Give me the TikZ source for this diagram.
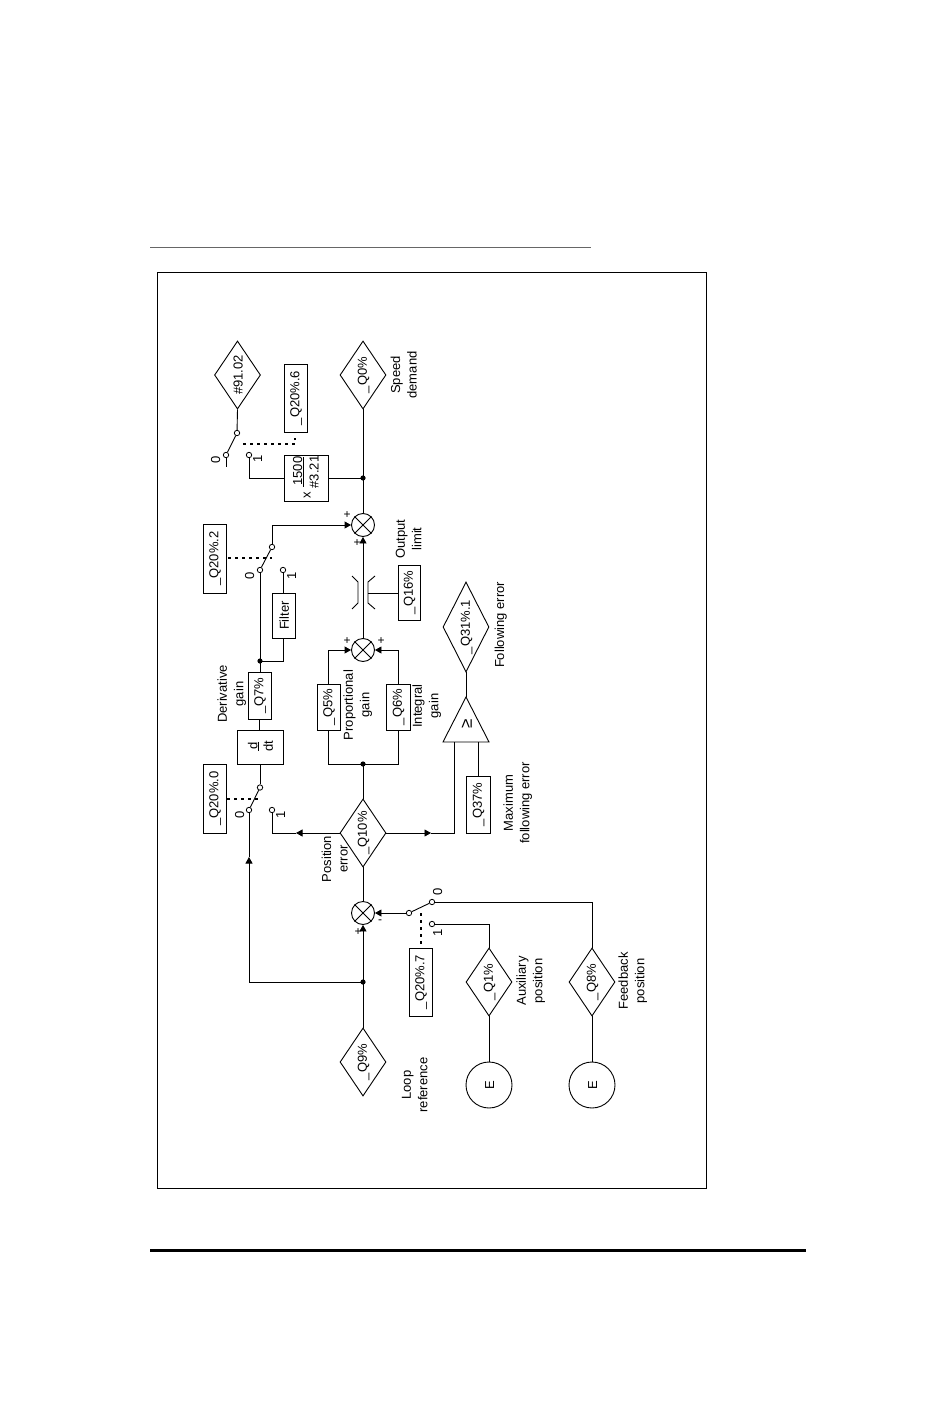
\documentclass[tikz,border=0pt]{standalone}
\usepackage{fontspec}
\setmainfont{Liberation Sans}
\usetikzlibrary{shapes.geometric,arrows.meta}
\tikzset{
  x=1pt,y=-1pt,
  ln/.style={line width=0.9pt,black},
  every path/.append style={ln},
  tip/.style={-{Triangle[length=6.5pt,width=7pt]}},
  box/.style={draw,rectangle,inner sep=0pt,line width=0.9pt},
  diam/.style={draw,diamond,inner sep=0pt,minimum width=46pt,minimum height=68pt,line width=0.9pt},
  sumc/.style={draw,circle,inner sep=0pt,minimum size=23pt,line width=0.9pt},
  enc/.style={draw,circle,inner sep=0pt,minimum size=46pt,line width=0.9pt},
  dot/.style={circle,fill=black,inner sep=0pt,minimum size=5.2pt},
  cont/.style={draw,circle,fill=white,inner sep=0pt,minimum size=5.4pt,line width=0.8pt},
  rot/.style={rotate=90,xshift=0pt,yshift=-0.7pt,inner sep=0pt,align=center,font=\fontsize{13}{16.5}\selectfont},
  sm/.style={inner sep=0pt,font=\fontsize{12}{14}\selectfont},
  dots/.style={line width=1.7pt,dash pattern=on 2.5pt off 4.5pt},
}
\newcommand{\bx}[6]{%
  \pgfmathsetmacro{\cxa}{(#2+#4)/2}\pgfmathsetmacro{\cya}{(#3+#5)/2}%
  \pgfmathsetmacro{\wa}{#4-#2}\pgfmathsetmacro{\ha}{#5-#3}%
  \node[box,minimum width=\wa pt,minimum height=\ha pt] (#1) at (\cxa,\cya) {};
  \node[rot] at (#1) {#6};}
\newcommand{\dm}[4]{\node[diam] (#1) at (#2,#3) {}; \node[rot] at (#1) {#4};}
\newcommand{\sumj}[3]{\node[sumc] (#1) at (#2,#3) {};
  \draw (#1.north west) -- (#1.south east); \draw (#1.north east) -- (#1.south west);}
\begin{document}
\begin{tikzpicture}
\useasboundingbox (0,0) rectangle (950,1420);
\fill[white] (0,0) rectangle (950,1420);
% page furniture
\draw[line width=1pt,black!60] (150,248) -- (591,248);
\draw[line width=3pt] (150,1250.5) -- (806,1250.5);
\draw[line width=1pt] (157,272.3) rectangle (706,1188);
% diamonds
\dm{d91}{237.5}{375}{\#91.02}
\dm{q0}{363}{375}{\_Q0\%}
\dm{q10}{363}{833}{\_Q10\%}
\dm{q9}{363}{1062}{\_Q9\%}
\dm{q1}{489}{982}{\_Q1\%}
\dm{q8}{592}{982}{\_Q8\%}
\node[diam,minimum height=90pt] (q31) at (466,627) {};
\node[rot] at (q31) {\_Q31\%.1};
% encoders
\node[enc] (e1) at (489,1085) {}; \node[rot] at (e1) {E};
\node[enc] (e2) at (592,1085) {}; \node[rot] at (e2) {E};
% summers
\sumj{s3}{363}{525}
\sumj{s2}{363}{650}
\sumj{s1}{363}{913}
% boxes
\bx{b206}{284}{364}{307}{432}{\_Q20\%.6}
\bx{b15}{284}{455}{328}{501}{}
\bx{b202}{203}{524}{226}{593}{\_Q20\%.2}
\bx{q16}{398}{565}{420}{620}{\_Q16\%}
\bx{filt}{272}{593}{295}{638}{Filter}
\bx{q7}{248}{672}{271}{719}{\_Q7\%}
\bx{ddt}{237}{730}{283}{764}{}
\bx{b200}{203}{764}{226}{833}{\_Q20\%.0}
\bx{q5}{317}{684}{340}{730}{\_Q5\%}
\bx{q6}{386}{684}{410}{730}{\_Q6\%}
\bx{q37}{466}{776}{490}{833}{\_Q37\%}
\bx{b207}{409}{948}{432}{1016}{\_Q20\%.7}
% box contents
\node[rot] (t1500) at (297,471) {1500};
\node[rot] (t321) at (313.5,472) {\#3.21};
\node[rot] (tx) at (306.5,495) {x};
\coordinate (fa) at (303.5,457); \coordinate (fb) at (303.5,487);
\draw (fa) -- (fb);
\node[rot] (td) at (252,746) {d};
\node[rot] (tdt) at (267.5,746) {dt};
\coordinate (ga) at (258,741.5); \coordinate (gb) at (258,750.5);
\draw (ga) -- (gb);
% triangle
\coordinate (tap) at (466,697); \coordinate (tl) at (443,742); \coordinate (tr) at (489,742);
\draw[line join=miter] (tap) -- (tl) -- (tr) -- cycle;
\node[rot,font=\fontsize{17}{19}\selectfont] at (466,724) {≥};
\coordinate (tb1) at (454,742); \coordinate (tb2) at (478,742);
% switch 1
\node[cont] (p1) at (237,433) {};
\node[cont] (c10) at (226,455) {};
\node[cont] (c11) at (249,455) {};
\coordinate (t1) at (226,467);
\draw (d91.south) -- (p1);
\draw (p1) -- (c10);
\draw (c10) -- (t1);
\node[dot] (j1) at (363,478) {};
\draw (c11) |- (b15.west);
\draw (b15.east) -- (j1.center);
\draw (q0.south) -- (s3.north);
\coordinate (da1) at (243,444); \coordinate (da2) at (295,444);
\draw[dots] (da1) -- (da2) -- (b206.south -| da2);
% switch 2
\node[cont] (p2) at (272,547) {};
\node[cont] (c20) at (260,570) {};
\node[cont] (c21) at (283,570) {};
\draw[tip] (p2) |- (s3.west);
\draw (p2) -- (c20);
\draw (c21) -- (c21 |- filt.north);
\coordinate (db1) at (228,558); \coordinate (db2) at (272,558);
\draw[dots] (db1) -- (db2);
\node[dot] (j2) at (260,661) {};
\draw (c20) -- (j2.center);
\draw (j2.center) -- (q7.north -| j2);
\draw (filt.south) |- (j2.center);
\draw[tip] (s2.north) -- (s3.south);
% chain
\draw (q7.south) -- (q7.south |- ddt.north);
\node[cont] (p3) at (260,787.5) {};
\node[cont] (c30) at (249,810) {};
\node[cont] (c31) at (272,810) {};
\draw (ddt.south -| p3) -- (p3);
\draw (p3) -- (c30);
\coordinate (dc1) at (227,799); \coordinate (dc2) at (262,799);
\draw[dots] (dc1) -- (dc2);
\coordinate (a1) at (296,833);
\draw[tip] (q10.west) -- (a1);
\draw (a1) -| (c31);
\coordinate (a2) at (249,857);
\node[dot] (j3) at (363,982) {};
\draw[tip] (j3.center) -| (a2);
\draw (a2) -- (c30);
\draw (q9.north) -- (j3.center);
\draw[tip] (j3.center) -- (s1.south);
\draw (q10.south) -- (s1.north);
% error branch
\coordinate (a3) at (431,833);
\draw[tip] (q10.east) -- (a3);
\draw (a3) -| (tb1);
\draw (q37.north -| tb2) -- (tb2);
\draw (tap) -- (q31.south);
% PI
\node[dot] (j4) at (363,764) {};
\draw (q10.north) -- (j4.center);
\coordinate (jl) at (q5.south |- j4); \coordinate (jr) at (q6.south |- j4);
\draw (q5.south) -- (jl) -- (jr) -- (q6.south);
\draw[tip] (q5.north) |- (s2.west);
\draw[tip] (q6.north) |- (s2.east);
% limiter
\coordinate (la) at (352,576); \coordinate (lb) at (358,582); \coordinate (lc) at (358,603); \coordinate (ld) at (352,609);
\draw (la) -- (lb) -- (lc) -- (ld);
\coordinate (ra) at (375,576); \coordinate (rb) at (368,582); \coordinate (rm) at (368,593); \coordinate (rc) at (368,603); \coordinate (rd) at (375,609);
\draw (ra) -- (rb) -- (rc) -- (rd);
\draw (q16.west |- rm) -- (rm);
% switch 4
\node[cont] (p4) at (409,913) {};
\node[cont] (c40) at (432,902) {};
\node[cont] (c41) at (432,924) {};
\draw[tip] (p4) -- (s1.east);
\draw (p4) -- (c40);
\draw (c40) -| (q8.north);
\draw (c41) -| (q1.north);
\coordinate (dd1) at (421,913);
\draw[dots] (dd1) -- (dd1 |- b207.north);
\draw (q1.south) -- (e1.north);
\draw (q8.south) -- (e2.north);
% signs
\node[sm] at (347,515) {+};
\node[sm] at (357,543) {+};
\node[sm] at (347,641) {+};
\node[sm] at (381,641) {+};
\node[sm] at (358,932) {+};
\node[sm] at (380,922) {-};
% switch labels
\node[rot] at (215,460) {0};
\node[rot] at (257,459) {1};
\node[rot] at (249,576) {0};
\node[rot] at (291,576) {1};
\node[rot] at (239,815) {0};
\node[rot] at (280,815) {1};
\node[rot] at (437,892) {0};
\node[rot] at (437,933) {1};
% text labels
\node[rot] at (403,375) {Speed\\demand};
\node[rot] at (408,539) {Output\\limit};
\node[rot] at (500,625) {Following error};
\node[rot] at (357,705) {Proportional\\gain};
\node[rot] at (426,706) {Integral\\gain};
\node[rot] at (231,694) {Derivative\\gain};
\node[rot] at (334,859) {Position\\error};
\node[rot] at (517,803) {Maximum\\following error};
\node[rot] at (530,981) {Auxiliary\\position};
\node[rot] at (632,981) {Feedback\\position};
\node[rot] at (414,1085) {Loop\\reference};
\end{tikzpicture}
\end{document}
